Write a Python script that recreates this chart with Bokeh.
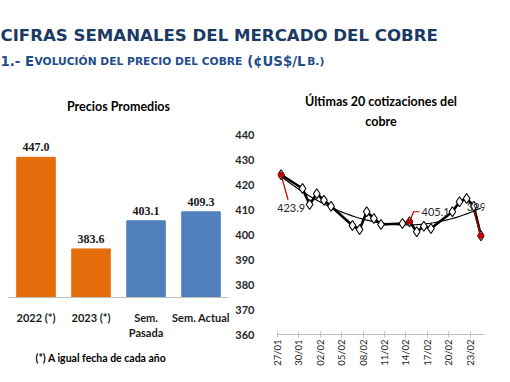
import numpy as np
import pandas as pd
from bokeh.plotting import figure
from bokeh.models import (Label, Range1d, FactorRange, ColumnDataSource, LabelSet,
                          FixedTicker, DatetimeTickFormatter, Title)
from bokeh.layouts import column, row
from bokeh.embed import file_html
from bokeh.resources import INLINE

# ---------------- data ----------------
header_line1 = "CIFRAS SEMANALES DEL MERCADO DEL COBRE"
header_line2_parts = ["1.- E", "VOLUCIÓN DEL PRECIO DEL COBRE", "(¢US$/L", "B.)"]

bar_title = "Precios Promedios"
bar_categories = ["2022 (*)", "2023 (*)", "Sem.\nPasada", "Sem. Actual"]
bar_values = [447.0, 383.6, 403.1, 409.3]
bar_colors = ["#E46C0A", "#E46C0A", "#4F81BD", "#4F81BD"]
bar_axis_min = 350
bar_note = "(*) A igual fecha de cada año"

line_title = ["Últimas 20 cotizaciones del", "cobre"]
quote_dates = ["2023-01-27", "2023-01-30", "2023-01-31", "2023-02-01", "2023-02-02",
               "2023-02-03", "2023-02-06", "2023-02-07", "2023-02-08", "2023-02-09",
               "2023-02-10", "2023-02-13", "2023-02-14", "2023-02-15", "2023-02-16",
               "2023-02-17", "2023-02-20", "2023-02-21", "2023-02-22", "2023-02-23",
               "2023-02-24"]
quote_values = [423.9, 418.4, 412.0, 416.3, 413.7, 411.3, 403.6, 402.0, 409.1, 406.4,
                404.0, 404.4, 405.1, 401.1, 403.3, 402.4, 409.1, 413.1, 414.4, 411.3,
                399.5]
labelled_points = [0, 12, 20]
y_ticks = [360, 370, 380, 390, 400, 410, 420, 430, 440]
x_tick_dates = ["2023-01-27", "2023-01-30", "2023-02-02", "2023-02-05", "2023-02-08",
                "2023-02-11", "2023-02-14", "2023-02-17", "2023-02-20", "2023-02-23"]
x_start, x_end = "2023-01-27", "2023-02-25"

CHART_FONT = "Lato"
HEAD_FONT = "DejaVu Sans"

# ---------------- header ----------------
W = 494
HH = 79
hdr = figure(frame_width=W, frame_height=HH, x_range=Range1d(0, W), y_range=Range1d(HH, 0),
             output_backend="svg", toolbar_location=None, min_border=0,
             x_axis_location=None, y_axis_location=None)
hdr.grid.visible = False
hdr.outline_line_color = None
hdr.add_layout(Label(x=0, y=35.2, text=header_line1, text_font=HEAD_FONT,
                     text_font_style="bold", text_font_size="16.6px",
                     text_color="#1B3A63", text_baseline="alphabetic"))
part_x = [0, 34, 246.7, 306.7]
part_size = ["13.3px", "10.7px", "13.3px", "10.7px"]
for t, xx, fs in zip(header_line2_parts, part_x, part_size):
    hdr.add_layout(Label(x=xx, y=60.5, text=t, text_font=HEAD_FONT,
                         text_font_style="bold", text_font_size=fs,
                         text_color="#1F4E8A", text_baseline="alphabetic"))

# ---------------- bar chart ----------------
b_frame_w, b_frame_h = 220, 218
b_px_per_unit = 1.445
b_top = bar_axis_min + b_frame_h / b_px_per_unit
bsrc = ColumnDataSource(dict(cat=bar_categories, val=bar_values, color=bar_colors,
                             lab=[f"{v:.1f}" for v in bar_values]))
pb = figure(frame_width=b_frame_w, frame_height=b_frame_h,
            x_range=FactorRange(*bar_categories),
            y_range=Range1d(bar_axis_min, b_top), output_backend="svg",
            toolbar_location=None, min_border_left=8, min_border_right=4,
            min_border_top=0, min_border_bottom=68,
            y_axis_location=None, frame_align=False)
pb.vbar(x="cat", top="val", bottom=bar_axis_min, width=0.7, color="color", source=bsrc)
pb.add_layout(LabelSet(x="cat", y="val", text="lab", source=bsrc, y_offset=6,
                       text_align="center", text_baseline="alphabetic",
                       text_font=CHART_FONT, text_font_style="bold",
                       text_font_size="12px", text_color="#1a1a1a"))
pb.grid.visible = False
pb.outline_line_color = None
pb.xaxis.axis_line_color = "#BFBFBF"
pb.xaxis.major_tick_line_color = None
pb.xaxis.minor_tick_line_color = None
pb.xaxis.major_label_standoff = 7
pb.xaxis.major_label_text_font = CHART_FONT
pb.xaxis.major_label_text_font_style = "bold"
pb.xaxis.major_label_text_font_size = "11px"
pb.xaxis.major_label_text_color = "#1a1a1a"
pb.add_layout(Label(x=2.0, y=b_top - 27 / b_px_per_unit, text=bar_title,
                    text_align="center", text_baseline="alphabetic",
                    text_font=CHART_FONT, text_font_style="bold",
                    text_font_size="12.5px", text_color="#000000"))
pb.add_layout(Title(text=bar_note, align="left", offset=27, standoff=15,
                    text_font=CHART_FONT, text_font_style="bold",
                    text_font_size="10.5px", text_color="#000000"), "below")

# ---------------- line chart ----------------
x0 = pd.Timestamp(x_start)
x1 = pd.Timestamp(x_end)
n_days = (x1 - x0).days
px_per_day = 7.133
l_frame_w = int(round(n_days * px_per_day))
l_frame_h = 200
px_per_unit = l_frame_h / (y_ticks[-1] - y_ticks[0])

xs = pd.to_datetime(quote_dates) + pd.Timedelta(hours=12)
days = np.array([(d - x0).total_seconds() / 86400 for d in xs])
vals = np.array(quote_values)

pl = figure(frame_width=l_frame_w, frame_height=l_frame_h, x_axis_type="datetime",
            x_range=Range1d(x0, x1), y_range=Range1d(y_ticks[0], y_ticks[-1]),
            output_backend="svg", toolbar_location=None, title=None,
            min_border_left=36, min_border_right=262 - 36 - l_frame_w,
            min_border_top=55, min_border_bottom=0, frame_align=False)
pl.grid.visible = False
pl.outline_line_color = None
pl.add_layout(Title(text=line_title[1], align="center", offset=9, standoff=12,
                    text_font=CHART_FONT, text_font_style="bold",
                    text_font_size="12.5px", text_color="#000000"), "above")
pl.add_layout(Title(text=line_title[0], align="center", offset=9, standoff=-7,
                    text_font=CHART_FONT, text_font_style="bold",
                    text_font_size="12.5px", text_color="#000000"), "above")

# trendline (quadratic fit of the data)
coef = np.polyfit(days, vals, 2)
td = np.linspace(days[0], days[-1], 60)
tx = [x0 + pd.Timedelta(days=float(d)) for d in td]
pl.line(tx, np.polyval(coef, td), line_color="#000000", line_width=1.2)

pl.line(xs, vals, line_color="#000000", line_width=2.6)
pl.scatter(xs, vals, marker="diamond", size=10, fill_color="#FFFFFF",
           line_color="#000000", line_width=1.1)

red = "#C00000"
lab_cfg = {0: dict(lead=[(7, -25)], xo=10, yo=-33, align="center", base="alphabetic"),
           12: dict(lead=[(4, 10), (10, 10)], xo=12, yo=10, align="left", base="middle"),
           20: dict(lead=[(-7, 24)], xo=0, yo=29, align="center", base="middle")}
for i in labelled_points:
    cfg = lab_cfg[i]
    px, py = xs[i], vals[i]
    lx, ly = [px], [py]
    for dx, dy in cfg["lead"]:
        lx.append(px + pd.Timedelta(days=dx / px_per_day))
        ly.append(py + dy / px_per_unit)
    pl.line(lx, ly, line_color=red, line_width=1.2)
    pl.scatter([px], [py], marker="circle", size=5, fill_color=red, line_color=red)
    pl.add_layout(Label(x=px, y=py, x_offset=cfg["xo"], y_offset=cfg["yo"],
                        text=f"{quote_values[i]:.1f}", text_align=cfg["align"],
                        text_baseline=cfg["base"], text_font=CHART_FONT,
                        text_font_size="11px", text_color="#262626"))

pl.yaxis.ticker = FixedTicker(ticks=y_ticks)
pl.yaxis.axis_line_color = None
pl.yaxis.major_tick_line_color = None
pl.yaxis.minor_tick_line_color = None
pl.yaxis.major_label_standoff = 17
pl.yaxis.major_label_text_font = CHART_FONT
pl.yaxis.major_label_text_font_size = "11px"
pl.yaxis.major_label_text_font_style = "bold"
pl.yaxis.major_label_text_color = "#262626"

tick_ms = [pd.Timestamp(d).value // 10**6 for d in x_tick_dates]
pl.xaxis.ticker = FixedTicker(ticks=tick_ms)
pl.xaxis.formatter = DatetimeTickFormatter(days="%d/%m", months="%d/%m", hours="%d/%m",
                                           years="%d/%m", hourmin="%d/%m")
pl.xaxis.major_label_orientation = np.pi / 2
pl.xaxis.axis_line_color = "#BFBFBF"
pl.xaxis.major_tick_line_color = "#BFBFBF"
pl.xaxis.major_tick_out = 3
pl.xaxis.major_tick_in = 3
pl.xaxis.minor_tick_line_color = None
pl.xaxis.major_label_standoff = 2
pl.xaxis.major_label_text_font = CHART_FONT
pl.xaxis.major_label_text_font_size = "9.5px"
pl.xaxis.major_label_text_color = "#262626"

layout = column(hdr, row(pb, pl, spacing=0), spacing=0)
open("out.html", "w").write(file_html(layout, INLINE))
